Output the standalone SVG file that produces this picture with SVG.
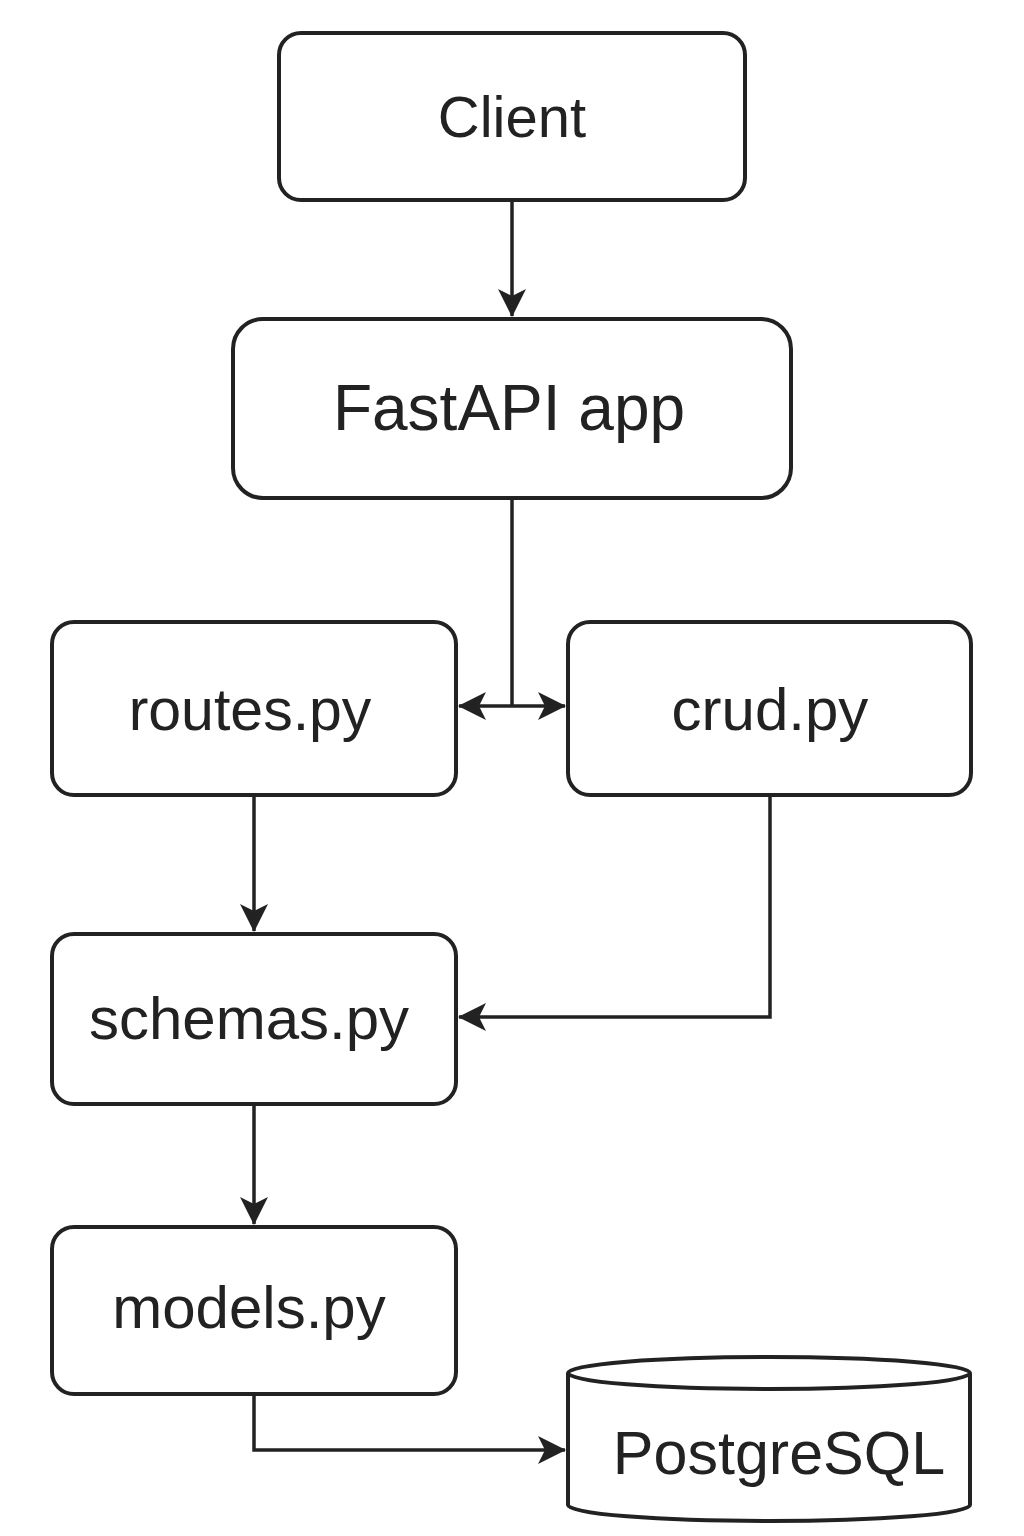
<svg xmlns="http://www.w3.org/2000/svg" width="1024" height="1536" viewBox="0 0 1024 1536">
<style>
.box{fill:#fff;stroke:#222;stroke-width:4}
.lbl{font-family:"Liberation Sans",Arial,sans-serif;fill:#222;text-anchor:middle}
.con{fill:none;stroke:#222;stroke-width:3.5}
</style>
<defs>
<marker id="ah" viewBox="0 0 28 28" refX="27" refY="14" markerWidth="28" markerHeight="28" markerUnits="userSpaceOnUse" orient="auto">
<path d="M0,0 L28,14 L0,28 L7,14 Z" fill="#222"/>
</marker>
</defs>
<rect width="1024" height="1536" fill="#fff"/>
<g id="connectors">
<path class="con" d="M512,202 V316" marker-end="url(#ah)"/>
<path class="con" d="M512,500 V706"/>
<path class="con" d="M512,706 H459" marker-end="url(#ah)"/>
<path class="con" d="M512,706 H565" marker-end="url(#ah)"/>
<path class="con" d="M254,797 V931" marker-end="url(#ah)"/>
<path class="con" d="M770,797 V1017 H459" marker-end="url(#ah)"/>
<path class="con" d="M254,1106 V1224" marker-end="url(#ah)"/>
<path class="con" d="M254,1396 V1450 H565" marker-end="url(#ah)"/>
</g>
<g id="client">
<rect class="box" x="279" y="33" width="466" height="167" rx="22"/>
<text class="lbl" x="512" y="137" font-size="58">Client</text>
</g>
<g id="fastapi">
<rect class="box" x="233" y="319" width="558" height="179" rx="30"/>
<text class="lbl" x="509" y="430" font-size="64">FastAPI app</text>
</g>
<g id="routes">
<rect class="box" x="52" y="622" width="404" height="173" rx="22"/>
<text class="lbl" x="250" y="730" font-size="59">routes.py</text>
</g>
<g id="crud">
<rect class="box" x="568" y="622" width="403" height="173" rx="22"/>
<text class="lbl" x="770" y="730" font-size="60">crud.py</text>
</g>
<g id="schemas">
<rect class="box" x="52" y="934" width="404" height="170" rx="22"/>
<text class="lbl" x="249" y="1039" font-size="60">schemas.py</text>
</g>
<g id="models">
<rect class="box" x="52" y="1227" width="404" height="167" rx="22"/>
<text class="lbl" x="249" y="1328" font-size="60">models.py</text>
</g>
<g id="postgresql">
<path class="box" d="M568,1373 V1505 A201,16 0 0 0 970,1505 V1373"/>
<ellipse class="box" cx="769" cy="1373" rx="201" ry="16"/>
<text class="lbl" x="779" y="1474" font-size="61">PostgreSQL</text>
</g>
</svg>
